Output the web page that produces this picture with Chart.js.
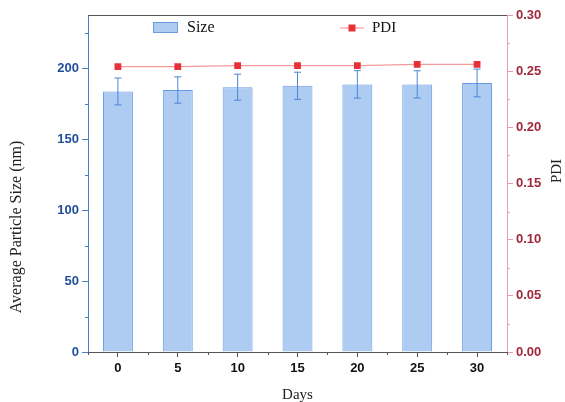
<!DOCTYPE html>
<html>
<head>
<meta charset="utf-8">
<script src="https://cdn.jsdelivr.net/npm/chart.js@4"></script>
<style>
  html, body { margin: 0; padding: 0; background: #fff; }
  #wrap { width: 565px; height: 402px; position: relative; }
</style>
</head>
<body>
<div id="wrap"><canvas id="chart"></canvas></div>
<script>
// Stability data
const days = ['0', '5', '10', '15', '20', '25', '30'];
const sizeValues = [184, 185, 187, 188, 189, 189, 190];
const sizeErrors = [9.5, 9.3, 9.2, 9.6, 9.7, 9.6, 9.8];
const pdiValues = [0.254, 0.254, 0.255, 0.255, 0.255, 0.256, 0.256];

const sizeTicks = [0, 50, 100, 150, 200];
const sizeMinorTicks = [25, 75, 125, 175, 225];
const pdiMinorTicks = [0.025, 0.075, 0.125, 0.175, 0.225, 0.275];

const SERIF = '"Liberation Serif", "Times New Roman", serif';
const SANS = '"Liberation Sans", Arial, sans-serif';

// Error bars on the size bars
const errorBars = {
  id: 'errorBars',
  afterDatasetsDraw(chart) {
    const meta = chart.getDatasetMeta(0);
    const y = chart.scales.y;
    const ctx = chart.ctx;
    ctx.save();
    ctx.strokeStyle = '#4a86d6';
    ctx.lineWidth = 1;
    meta.data.forEach((bar, i) => {
      const top = y.getPixelForValue(sizeValues[i] + sizeErrors[i]);
      const bot = y.getPixelForValue(sizeValues[i] - sizeErrors[i]);
      ctx.beginPath();
      ctx.moveTo(bar.x, top);
      ctx.lineTo(bar.x, bot);
      ctx.moveTo(bar.x - 3.5, top);
      ctx.lineTo(bar.x + 3.5, top);
      ctx.moveTo(bar.x - 3.5, bot);
      ctx.lineTo(bar.x + 3.5, bot);
      ctx.stroke();
    });
    ctx.restore();
  }
};

// Frame, minor ticks, axis titles and legend
const decorations = {
  id: 'decorations',
  afterDraw(chart) {
    const ctx = chart.ctx;
    const area = chart.chartArea;
    const x = chart.scales.x;
    const y = chart.scales.y;
    const y1 = chart.scales.y1;
    ctx.save();

    // top frame line
    ctx.strokeStyle = '#555';
    ctx.lineWidth = 1;
    ctx.beginPath();
    ctx.moveTo(area.left, area.top + 0.5);
    ctx.lineTo(area.right, area.top + 0.5);
    ctx.stroke();

    // minor ticks on x (category boundaries)
    ctx.beginPath();
    for (let i = 0; i <= days.length; i++) {
      const px = Math.round(x.getPixelForValue(i - 0.5)) + 0.5;
      ctx.moveTo(px, area.bottom);
      ctx.lineTo(px, area.bottom + 3);
    }
    ctx.stroke();

    // minor ticks on left axis
    ctx.strokeStyle = '#4a7fc9';
    ctx.beginPath();
    sizeMinorTicks.forEach(v => {
      const py = Math.round(y.getPixelForValue(v)) + 0.5;
      ctx.moveTo(area.left, py);
      ctx.lineTo(area.left - 3, py);
    });
    ctx.stroke();

    // minor ticks on right axis
    ctx.strokeStyle = '#e6a0a8';
    ctx.beginPath();
    pdiMinorTicks.forEach(v => {
      const py = Math.round(y1.getPixelForValue(v)) + 0.5;
      ctx.moveTo(area.right, py);
      ctx.lineTo(area.right + 3, py);
    });
    ctx.stroke();

    // axis titles
    ctx.fillStyle = '#222';
    ctx.textAlign = 'center';
    ctx.textBaseline = 'middle';
    ctx.font = '15px ' + SERIF;
    ctx.fillText('Days', (area.left + area.right) / 2, 395);

    ctx.save();
    ctx.translate(17, 227);
    ctx.rotate(-Math.PI / 2);
    ctx.font = '16px ' + SERIF;
    ctx.fillText('Average Particle Size (nm)', 0, 0);
    ctx.restore();

    ctx.save();
    ctx.translate(557, 171);
    ctx.rotate(-Math.PI / 2);
    ctx.font = '15px ' + SERIF;
    ctx.fillText('PDI', 0, 0);
    ctx.restore();

    // legend
    ctx.textAlign = 'left';
    ctx.fillStyle = '#aecbf2';
    ctx.fillRect(153, 22, 25, 11);
    ctx.strokeStyle = '#6a9be0';
    ctx.strokeRect(153.5, 22.5, 24, 10);
    ctx.fillStyle = '#111';
    ctx.font = '16px ' + SERIF;
    ctx.fillText('Size', 187, 28);

    ctx.strokeStyle = '#f39a9a';
    ctx.lineWidth = 1.2;
    ctx.beginPath();
    ctx.moveTo(340, 28);
    ctx.lineTo(364, 28);
    ctx.stroke();
    ctx.fillStyle = '#e8303a';
    ctx.fillRect(348.5, 24.5, 7, 7);
    ctx.fillStyle = '#111';
    ctx.font = '15px ' + SERIF;
    ctx.fillText('PDI', 372, 28);

    ctx.restore();
  }
};

new Chart(document.getElementById('chart'), {
  data: {
    labels: days,
    datasets: [
      {
        type: 'line',
        label: 'PDI',
        data: pdiValues,
        yAxisID: 'y1',
        order: 0,
        borderColor: '#f39a9a',
        borderWidth: 1.2,
        pointStyle: 'rect',
        pointRadius: 4.8,
        pointBorderWidth: 0,
        pointBackgroundColor: '#e8303a',
        tension: 0
      },
      {
        type: 'bar',
        label: 'Size',
        data: sizeValues,
        yAxisID: 'y',
        order: 1,
        backgroundColor: '#aecbf2',
        borderColor: '#6a9be0',
        borderWidth: 1,
        categoryPercentage: 0.5,
        barPercentage: 1.0
      }
    ]
  },
  options: {
    responsive: true,
    maintainAspectRatio: false,
    animation: false,
    layout: { padding: { top: 15, left: 0, right: 0, bottom: 0 } },
    plugins: {
      legend: { display: false },
      tooltip: { enabled: false }
    },
    scales: {
      x: {
        type: 'category',
        offset: true,
        afterFit: scale => { scale.height = 50; },
        border: { color: '#555', width: 1 },
        grid: { drawOnChartArea: false, offset: false, color: '#555', tickLength: 5 },
        ticks: {
          color: '#111',
          padding: 4,
          font: { family: SANS, size: 13, weight: 'bold' }
        }
      },
      y: {
        position: 'left',
        min: 0,
        max: 238,
        afterFit: scale => { scale.width = 88; },
        afterBuildTicks: scale => { scale.ticks = sizeTicks.map(v => ({ value: v })); },
        border: { color: '#4a7fc9', width: 1 },
        grid: { drawOnChartArea: false, color: '#4a7fc9', tickLength: 6 },
        ticks: {
          color: '#1f4f9c',
          padding: 3,
          font: { family: SANS, size: 13, weight: 'bold' }
        }
      },
      y1: {
        position: 'right',
        min: 0,
        max: 0.30,
        afterFit: scale => { scale.width = 58; },
        border: { color: '#e6a0a8', width: 1 },
        grid: { drawOnChartArea: false, color: '#e6a0a8', tickLength: 6 },
        ticks: {
          stepSize: 0.05,
          color: '#a0283c',
          padding: 3,
          font: { family: SANS, size: 13, weight: 'bold' },
          callback: v => v.toFixed(2)
        }
      }
    }
  },
  plugins: [errorBars, decorations]
});
</script>
</body>
</html>
